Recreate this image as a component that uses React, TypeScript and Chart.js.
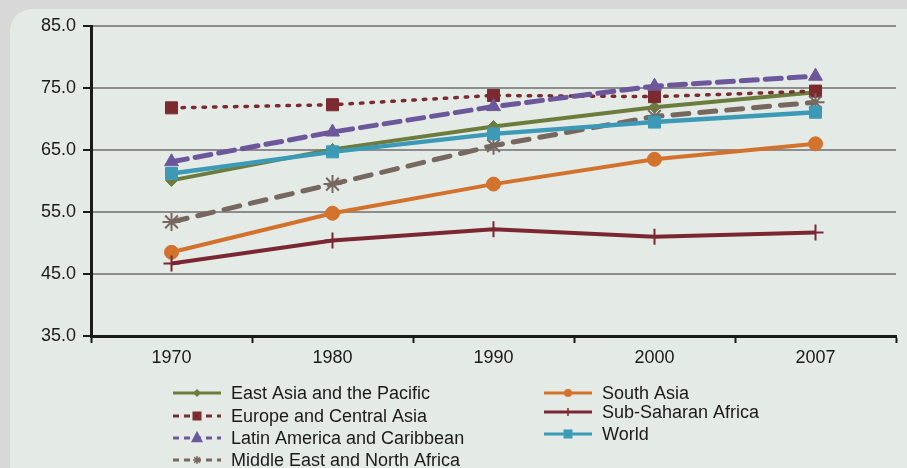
import React, { useEffect, useRef } from 'react';
import { Chart, registerables } from 'chart.js';

Chart.register(...registerables);

const categories = ['1970', '1980', '1990', '2000', '2007'];
const eastAsiaPacific = [60.1, 65.1, 68.8, 71.9, 74.3];
const europeCentralAsia = [71.8, 72.3, 73.8, 73.6, 74.5];
const latinAmericaCaribbean = [63.1, 67.9, 72.0, 75.3, 76.9];
const middleEastNorthAfrica = [53.4, 59.5, 65.7, 70.4, 72.7];
const southAsia = [48.5, 54.8, 59.5, 63.5, 66.0];
const subSaharanAfrica = [46.7, 50.4, 52.2, 51.0, 51.7];
const world = [61.2, 64.7, 67.6, 69.5, 71.1];

const seriesLabels = [
  'East Asia and the Pacific',
  'Europe and Central Asia',
  'Latin America and Caribbean',
  'Middle East and North Africa',
  'South Asia',
  'Sub-Saharan Africa',
  'World',
];
const seriesValues = [
  eastAsiaPacific,
  europeCentralAsia,
  latinAmericaCaribbean,
  middleEastNorthAfrica,
  southAsia,
  subSaharanAfrica,
  world,
];
const seriesColors = ['#6c7c3d', '#7b2a2f', '#6d579b', '#76675f', '#d2722d', '#7b2732', '#3d9ab7'];
const seriesStyles = ['rectRot', 'rect', 'triangle', 'star', 'circle', 'cross', 'rect'];
const seriesRadius = [6, 8.5, 8, 9, 7, 8, 8.5];
const seriesWidth = [4, 3.5, 5, 5, 4, 4, 4.5];
const seriesDash: number[][] = [[], [2.5, 8], [16, 8], [16, 11], [], [], []];
const legendDash: number[][] = [[], [6, 5], [6, 5], [6, 5], [], [], []];

const Y_MIN = 35;
const Y_MAX = 85;
const Y_STEP = 10;

const FONT = '"Liberation Sans", Arial, sans-serif';
const TEXT = '#1a1a1a';

// legend layout: column x and row y for each series
const legendCol = [0, 0, 0, 0, 1, 1, 1];
const legendRowY = [393, 416, 438, 460, 393, 412, 434];
const legendColX = [173, 544];

function drawMarker(ctx: CanvasRenderingContext2D, style: string, x: number, y: number, r: number, color: string) {
  ctx.save();
  ctx.fillStyle = color;
  ctx.strokeStyle = color;
  ctx.setLineDash([]);
  ctx.beginPath();
  if (style === 'circle') {
    ctx.arc(x, y, r, 0, Math.PI * 2);
    ctx.fill();
  } else if (style === 'rect') {
    ctx.rect(x - r, y - r, 2 * r, 2 * r);
    ctx.fill();
  } else if (style === 'rectRot') {
    ctx.moveTo(x, y - r);
    ctx.lineTo(x + r, y);
    ctx.lineTo(x, y + r);
    ctx.lineTo(x - r, y);
    ctx.closePath();
    ctx.fill();
  } else if (style === 'triangle') {
    ctx.moveTo(x, y - r * 1.2);
    ctx.lineTo(x + r, y + r * 0.7);
    ctx.lineTo(x - r, y + r * 0.7);
    ctx.closePath();
    ctx.fill();
  } else if (style === 'star') {
    ctx.lineWidth = 1.5;
    for (let k = 0; k < 4; k++) {
      const a = (k * Math.PI) / 4;
      ctx.moveTo(x - Math.cos(a) * r, y - Math.sin(a) * r);
      ctx.lineTo(x + Math.cos(a) * r, y + Math.sin(a) * r);
    }
    ctx.stroke();
  } else if (style === 'cross') {
    ctx.lineWidth = 1.5;
    ctx.moveTo(x, y - r);
    ctx.lineTo(x, y + r);
    ctx.stroke();
  }
  ctx.restore();
}

const legendPlugin = {
  id: 'columnLegend',
  afterDraw(chart: any) {
    const ctx: CanvasRenderingContext2D = chart.ctx;
    ctx.save();
    ctx.font = `18px ${FONT}`;
    ctx.textBaseline = 'middle';
    ctx.fillStyle = TEXT;
    seriesLabels.forEach((label, i) => {
      const x0 = legendColX[legendCol[i]];
      const y = legendRowY[i];
      const len = 48;
      ctx.save();
      ctx.strokeStyle = seriesColors[i];
      ctx.lineWidth = 3;
      ctx.setLineDash(legendDash[i]);
      ctx.beginPath();
      ctx.moveTo(x0, y);
      ctx.lineTo(x0 + len, y);
      ctx.stroke();
      ctx.restore();
      const mr = seriesStyles[i] === 'triangle' ? 6 : seriesStyles[i] === 'rect' ? 4.5 : 4;
      drawMarker(ctx, seriesStyles[i], x0 + len / 2, y, mr, seriesColors[i]);
      ctx.fillStyle = TEXT;
      ctx.fillText(label, x0 + len + 10, y + 1);
    });
    ctx.restore();
  },
};

export default function App() {
  const canvasRef = useRef<HTMLCanvasElement | null>(null);

  useEffect(() => {
    const canvas = canvasRef.current;
    if (!canvas) return;
    const datasets = seriesLabels.map((label, i) => ({
      label,
      data: seriesValues[i],
      borderColor: seriesColors[i],
      backgroundColor: seriesColors[i],
      borderWidth: seriesWidth[i],
      borderDash: seriesDash[i],
      borderCapStyle: seriesDash[i].length ? 'round' : 'butt',
      pointStyle: seriesStyles[i],
      pointRadius: seriesRadius[i],
      pointBorderWidth: seriesStyles[i] === 'star' || seriesStyles[i] === 'cross' ? 2 : 1,
      pointBorderColor: seriesColors[i],
      pointBackgroundColor: seriesColors[i],
      tension: 0,
      fill: false,
      order: seriesLabels.length - i,
    }));
    const chart = new Chart(canvas, {
      type: 'line',
      data: { labels: categories, datasets: datasets as any },
      options: {
        responsive: false,
        animation: false,
        devicePixelRatio: 1,
        layout: { padding: { top: 26, right: 10, left: 0, bottom: 0 } },
        plugins: {
          legend: { display: false },
          tooltip: { enabled: false },
        },
        scales: {
          x: {
            type: 'category',
            offset: true,
            grid: {
              display: true,
              drawOnChartArea: false,
              drawTicks: true,
              tickLength: 7,
              tickColor: TEXT,
              tickWidth: 2,
              offset: true,
            },
            border: { display: true, color: TEXT, width: 3 },
            ticks: {
              color: TEXT,
              font: { family: FONT, size: 18 },
              padding: 4,
              maxRotation: 0,
              autoSkip: false,
            },
            afterFit: (s: any) => {
              s.height = 132;
            },
          },
          y: {
            min: Y_MIN,
            max: Y_MAX,
            ticks: {
              stepSize: Y_STEP,
              color: TEXT,
              font: { family: FONT, size: 18 },
              padding: 7,
              callback: (v: any) => Number(v).toFixed(1),
            },
            grid: {
              color: '#8c8c8c',
              lineWidth: 2,
              tickColor: TEXT,
              tickLength: 8,
              tickWidth: 2,
            },
            border: { display: true, color: TEXT, width: 3 },
            afterFit: (s: any) => {
              s.width = 91;
            },
          },
        },
      },
      plugins: [legendPlugin],
    });
    return () => chart.destroy();
  }, []);

  return (
    <div
      style={{
        position: 'absolute',
        left: 0,
        top: 0,
        width: 907,
        height: 468,
        background: '#d8d8d8',
        overflow: 'hidden',
      }}
    >
      <div
        style={{
          position: 'absolute',
          left: 10,
          top: 9,
          width: 960,
          height: 520,
          borderRadius: 22,
          background: '#e4ebe6',
        }}
      />
      <canvas
        ref={canvasRef}
        width={907}
        height={468}
        style={{ position: 'absolute', left: 0, top: 0, width: 907, height: 468 }}
      />
    </div>
  );
}
